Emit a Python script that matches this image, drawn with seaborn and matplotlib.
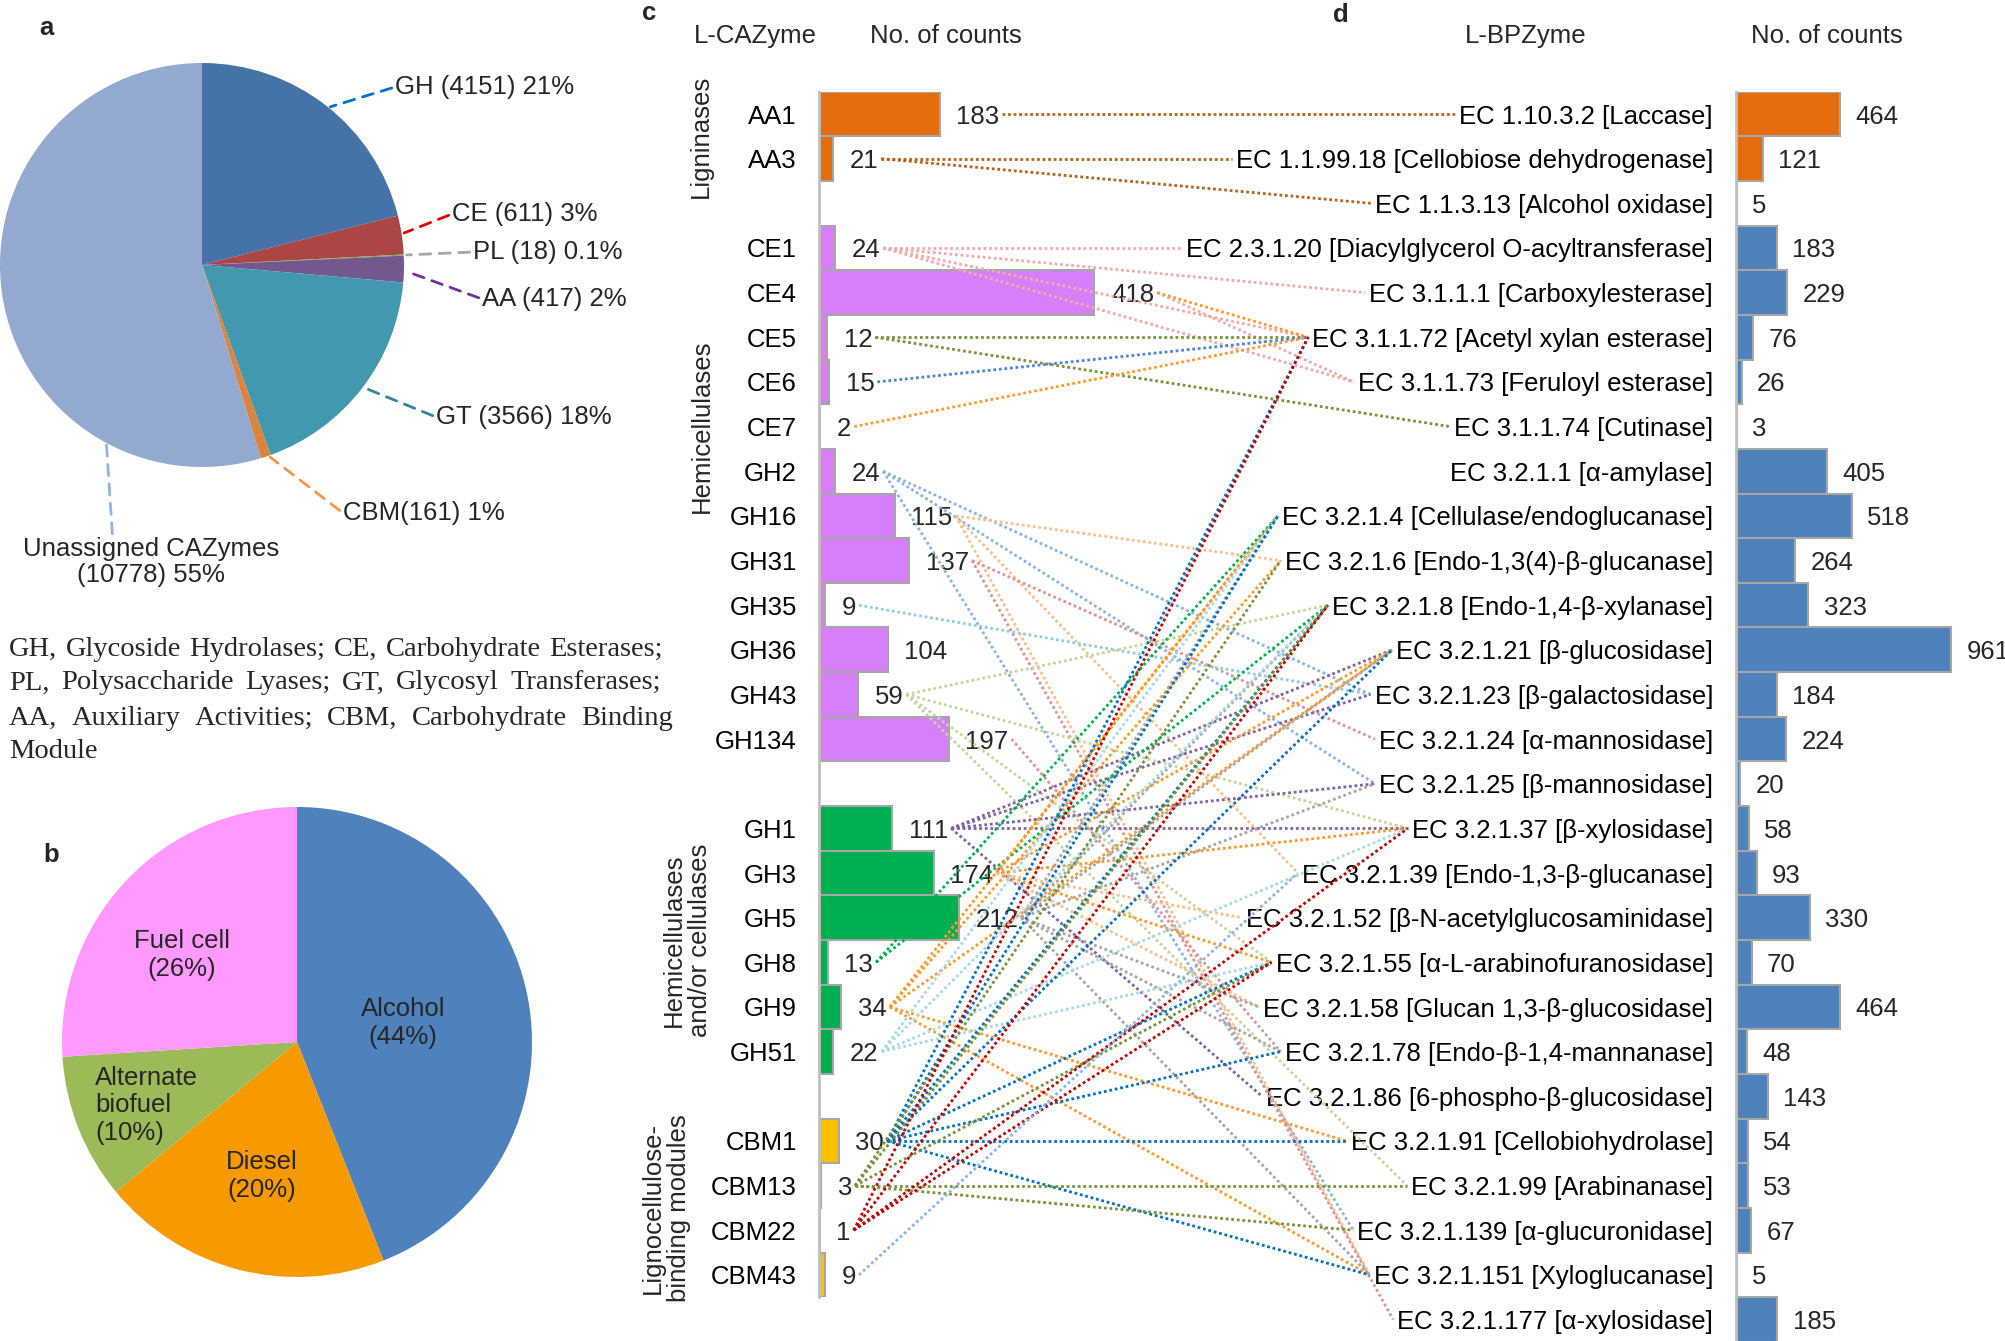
import matplotlib
matplotlib.use('Agg')
import matplotlib.pyplot as plt
import pandas as pd
import seaborn as sns
import numpy as np

W, H = 2006, 1341
FS = 18.5

# ---- panel a: CAZyme classes
cazy_classes = ['GH', 'CE', 'PL', 'AA', 'GT', 'CBM', 'Unassigned']
cazy_counts = [4151, 611, 18, 417, 3566, 161, 10778]
cazy_labels = ['GH (4151) 21%', 'CE (611) 3%', 'PL (18) 0.1%', 'AA (417) 2%',
               'GT (3566) 18%', 'CBM(161) 1%', 'Unassigned CAZymes\n(10778) 55%']
cazy_colors = ['#4572a7', '#aa4643', '#89a54e', '#71588f', '#4198af', '#db843d', '#93a9cf']
leader_colors = ['#0070c0', '#e00000', '#a6a6a6', '#7030a0', '#31859c', '#f79646', '#8eb4e3']

legend_lines = ['GH, Glycoside Hydrolases; CE, Carbohydrate Esterases;',
                'PL, Polysaccharide Lyases; GT, Glycosyl Transferases;',
                'AA, Auxiliary Activities; CBM, Carbohydrate Binding',
                'Module']

# ---- panel b: biofuel types
fuel_types = ['Alcohol\n(44%)', 'Diesel\n(20%)', 'Alternate\nbiofuel\n(10%)', 'Fuel cell\n(26%)']
fuel_share = [44, 20, 10, 26]
fuel_colors = ['#4f81bd', '#f79a00', '#9bbb59', '#ff99ff']

# ---- panel c: L-CAZymes
group_names = ['Ligninases', 'Hemicellulases', 'Hemicellulases\nand/or cellulases',
               'Lignocellulose-\nbinding modules']
group_colors = ['#e46c0a', '#d580fa', '#00b050', '#ffc000']
lig_enz = ['AA1', 'AA3']
lig_counts = [183, 21]
hemi_enz = ['CE1', 'CE4', 'CE5', 'CE6', 'CE7', 'GH2', 'GH16', 'GH31', 'GH35', 'GH36', 'GH43', 'GH134']
hemi_counts = [24, 418, 12, 15, 2, 24, 115, 137, 9, 104, 59, 197]
cell_enz = ['GH1', 'GH3', 'GH5', 'GH8', 'GH9', 'GH51']
cell_counts = [111, 174, 212, 13, 34, 22]
cbm_enz = ['CBM1', 'CBM13', 'CBM22', 'CBM43']
cbm_counts = [30, 3, 1, 9]

# ---- panel d: L-BPZymes
ec_codes = ['1.10.3.2', '1.1.99.18', '1.1.3.13', '2.3.1.20', '3.1.1.1', '3.1.1.72', '3.1.1.73',
            '3.1.1.74', '3.2.1.1', '3.2.1.4', '3.2.1.6', '3.2.1.8', '3.2.1.21', '3.2.1.23',
            '3.2.1.24', '3.2.1.25', '3.2.1.37', '3.2.1.39', '3.2.1.52', '3.2.1.55', '3.2.1.58',
            '3.2.1.78', '3.2.1.86', '3.2.1.91', '3.2.1.99', '3.2.1.139', '3.2.1.151', '3.2.1.177']
ec_names = ['Laccase', 'Cellobiose dehydrogenase', 'Alcohol oxidase',
            'Diacylglycerol O-acyltransferase', 'Carboxylesterase', 'Acetyl xylan esterase',
            'Feruloyl esterase', 'Cutinase', 'α-amylase', 'Cellulase/endoglucanase',
            'Endo-1,3(4)-β-glucanase', 'Endo-1,4-β-xylanase', 'β-glucosidase', 'β-galactosidase',
            'α-mannosidase', 'β-mannosidase', 'β-xylosidase', 'Endo-1,3-β-glucanase',
            'β-N-acetylglucosaminidase', 'α-L-arabinofuranosidase', 'Glucan 1,3-β-glucosidase',
            'Endo-β-1,4-mannanase', '6-phospho-β-glucosidase', 'Cellobiohydrolase', 'Arabinanase',
            'α-glucuronidase', 'Xyloglucanase', 'α-xylosidase']
ec_counts = [464, 121, 5, 183, 229, 76, 26, 3, 405, 518, 264, 323, 961, 184, 224, 20, 58, 93,
             330, 70, 464, 48, 143, 54, 53, 67, 5, 185]

# L-CAZyme -> L-BPZyme links (source, targets, colour)
links = [
    ('AA1', ['1.10.3.2'], '#b8621b'),
    ('AA3', ['1.1.99.18', '1.1.3.13'], '#b8621b'),
    ('CE1', ['2.3.1.20', '3.1.1.1', '3.1.1.72', '3.1.1.73'], '#f2aaaa'),
    ('CE4', ['3.1.1.73'], '#f2aaaa'),
    ('CE4', ['3.1.1.72'], '#ff9a2e'),
    ('CE5', ['3.1.1.72', '3.1.1.74'], '#77933c'),
    ('CE6', ['3.1.1.72'], '#4a86d8'),
    ('CE7', ['3.1.1.72'], '#ff9a2e'),
    ('GH2', ['3.2.1.23', '3.2.1.25', '3.2.1.139'], '#8db3e2'),
    ('GH16', ['3.2.1.6', '3.2.1.39', '3.2.1.151'], '#fbbf8c'),
    ('GH31', ['3.2.1.24', '3.2.1.177'], '#d99694'),
    ('GH35', ['3.2.1.23'], '#93cddd'),
    ('GH43', ['3.2.1.8', '3.2.1.37', '3.2.1.55', '3.2.1.99'], '#c3d69b'),
    ('GH134', ['3.2.1.78'], '#d99694'),
    ('GH1', ['3.2.1.21', '3.2.1.23', '3.2.1.25', '3.2.1.37', '3.2.1.86'], '#8064a2'),
    ('GH3', ['3.2.1.4', '3.2.1.21', '3.2.1.37', '3.2.1.55'], '#ff9a2e'),
    ('GH3', ['3.2.1.52', '3.2.1.58'], '#fbbf8c'),
    ('GH5', ['3.2.1.4', '3.2.1.8', '3.2.1.21', '3.2.1.25', '3.2.1.58', '3.2.1.78', '3.2.1.151'], '#a6a6a6'),
    ('GH8', ['3.2.1.4', '3.2.1.8'], '#00b050'),
    ('GH9', ['3.2.1.4', '3.2.1.6', '3.2.1.21', '3.2.1.91', '3.2.1.151'], '#ff9a2e'),
    ('GH51', ['3.2.1.4', '3.2.1.8', '3.2.1.37', '3.2.1.55'], '#a9d8e6'),
    ('CBM1', ['3.1.1.72', '3.2.1.4', '3.2.1.8', '3.2.1.21', '3.2.1.55', '3.2.1.78', '3.2.1.91', '3.2.1.151'], '#0070c0'),
    ('CBM13', ['3.2.1.6', '3.2.1.8', '3.2.1.55', '3.2.1.99', '3.2.1.139'], '#77933c'),
    ('CBM22', ['3.1.1.72', '3.2.1.8', '3.2.1.37', '3.2.1.55'], '#c00000'),
    ('CBM43', ['3.2.1.39'], '#8eb4e3'),
]

sns.set_theme(style='white')
plt.rcParams['font.family'] = ['Liberation Sans', 'DejaVu Sans']
plt.rcParams['font.size'] = FS

fig = plt.figure(figsize=(W / 100, H / 100), dpi=100)


def px_box(x0, y0, w, h):
    # pixel box (top-left origin) -> figure fraction
    return [x0 / W, 1 - (y0 + h) / H, w / W, h / H]


# ---------------- panel a
ax_a = fig.add_axes(px_box(0, 63, 404, 404))
wedges, _ = ax_a.pie(cazy_counts, colors=cazy_colors, startangle=90, counterclock=False,
                     wedgeprops=dict(linewidth=0))
ax_a.set_xlim(-1, 1)
ax_a.set_ylim(-1, 1)
ax_a.set_aspect('auto')
label_pos = [(395, 87), (452, 214), (473, 252), (482, 299), (436, 417), (343, 513), (151, 562)]
for i, (wdg, lab) in enumerate(zip(wedges, cazy_labels)):
    ang = np.deg2rad((wdg.theta1 + wdg.theta2) / 2) if i < 6 else np.deg2rad(-119)
    tx, ty = label_pos[i]
    last = i == 6
    ax_a.annotate(lab, xy=(0.98 * np.cos(ang), 0.98 * np.sin(ang)), xytext=(tx, H - ty),
                  textcoords='figure pixels', ha='center' if last else 'left', va='center',
                  fontsize=FS, linespacing=1.1,
                  arrowprops=dict(arrowstyle='-', linestyle=(0, (4, 3)), lw=2, color=leader_colors[i],
                                  shrinkA=0, shrinkB=5, relpos=(0.35, 1.0) if last else (0, 0.5)))

# serif definitions, justified
renderer = fig.canvas.get_renderer()
leg_y = [649, 683, 718, 752]
leg_right = [663, 661, 673, None]
for line, ly, right in zip(legend_lines, leg_y, leg_right):
    words = line.split(' ')
    texts = [fig.text(0, 1 - ly / H, w, fontsize=20.5, family='Liberation Serif', va='center')
             for w in words]
    widths = [t.get_window_extent(renderer).width for t in texts]
    gap = (right - 9 - sum(widths)) / (len(words) - 1) if right else 0
    x = 9
    for t, wd in zip(texts, widths):
        t.set_x(x / W)
        x += wd + gap

# ---------------- panel b
ax_b = fig.add_axes(px_box(62, 807, 470, 470))
ax_b.pie(fuel_share, colors=fuel_colors, startangle=90, counterclock=False,
         wedgeprops=dict(linewidth=0))
ax_b.set_xlim(-1, 1)
ax_b.set_ylim(-1, 1)
ax_b.set_aspect('auto')
fuel_pos = [(0.45, 0.08), (-0.15, -0.57), (-0.86, -0.27), (-0.49, 0.37)]
for lab, (fx, fy) in zip(fuel_types, fuel_pos):
    ax_b.text(fx, fy, lab, ha='left' if fx < -0.8 else 'center', va='center', fontsize=FS,
              multialignment='left' if fx < -0.8 else 'center')

# ---------------- panel c
row_h = 44.65
top = 114 - row_h / 2
groups = [lig_enz, hemi_enz, cell_enz, cbm_enz]
group_counts = [lig_counts, hemi_counts, cell_counts, cbm_counts]
c_order, c_names, c_vals, c_palette = [], [], [], {}
for gi, (enz, cnt) in enumerate(zip(groups, group_counts)):
    if gi:
        c_order.append(' ' * gi)
    c_order += enz
    c_names += enz
    c_vals += cnt
    for e in enz:
        c_palette[e] = group_colors[gi]
df_c = pd.DataFrame({'enzyme': c_names, 'count': c_vals})

n_c = len(c_order)
ax_c = fig.add_axes(px_box(819, top, 0.659 * 600, row_h * n_c))
sns.barplot(data=df_c, x='count', y='enzyme', hue='enzyme', order=c_order, hue_order=c_names,
            palette=c_palette, orient='h', width=1.0, saturation=1, errorbar=None,
            edgecolor='#a6a6a6', linewidth=1.5, legend=False, ax=ax_c)
ax_c.set_xlim(0, 600)
ax_c.set_ylim(n_c - 0.5, -0.5)

# ---------------- panel d
ec_labels = [f'EC {c} [{n}]' for c, n in zip(ec_codes, ec_names)]
df_d = pd.DataFrame({'ec': ec_labels, 'count': ec_counts})
d_palette = {lab: ('#e46c0a' if c.startswith('1.') else '#4f81bd') for lab, c in zip(ec_labels, ec_codes)}
n_d = len(ec_labels)
ax_d = fig.add_axes(px_box(1736, top, 0.224 * 1200, row_h * n_d))
sns.barplot(data=df_d, x='count', y='ec', hue='ec', order=ec_labels, hue_order=ec_labels,
            palette=d_palette, orient='h', width=1.0, saturation=1, errorbar=None,
            edgecolor='#a6a6a6', linewidth=1.5, legend=False, ax=ax_d)
ax_d.set_xlim(0, 1200)
ax_d.set_ylim(n_d - 0.5, -0.5)

for ax, pad in [(ax_c, 16), (ax_d, 16.5)]:
    ax.set_xlabel('')
    ax.set_ylabel('')
    ax.set_xticks([])
    ax.tick_params(axis='y', length=0, pad=pad, labelsize=FS, labelcolor='black')
    for s in ['top', 'right', 'bottom']:
        ax.spines[s].set_visible(False)
    ax.spines['left'].set_color('#bfbfbf')
    ax.spines['left'].set_linewidth(2)
    ax.patch.set_alpha(0)

val_text = {}
for name, v in zip(c_names, c_vals):
    val_text[name] = ax_c.annotate(str(v), xy=(v, c_order.index(name)), xytext=(12, 0),
                                   textcoords='offset points', va='center_baseline', ha='left',
                                   fontsize=FS)
for lab, v in zip(ec_labels, ec_counts):
    ax_d.annotate(str(v), xy=(v, ec_labels.index(lab)), xytext=(11, 0),
                  textcoords='offset points', va='center_baseline', ha='left', fontsize=FS,
                  annotation_clip=False)

# group labels (rotated)
group_rows = [0.5, 7.0, 18.5, 24.5]
group_x = [701, 702, 687, 666]
for name, gr, gx in zip(group_names, group_rows, group_x):
    ax_c.annotate(name, xy=(gx, gr), xycoords=('figure pixels', 'data'), rotation=90,
                  ha='center', va='center', fontsize=FS, linespacing=1.1)

# headers and panel letters
for txt, x, y in [('L-CAZyme', 755, 36), ('No. of counts', 946, 36),
                  ('L-BPZyme', 1526, 36), ('No. of counts', 1827, 36)]:
    fig.text(x / W, 1 - y / H, txt, ha='center', va='center', fontsize=FS)
for txt, x, y in [('a', 46, 28), ('b', 51, 855), ('c', 649, 13), ('d', 1341, 15)]:
    fig.text(x / W, 1 - y / H, txt, ha='center', va='center', fontsize=FS, fontweight='bold')

# ---------------- links
fig.canvas.draw()
renderer = fig.canvas.get_renderer()
ax_link = fig.add_axes([0, 0, 1, 1])
ax_link.set_xlim(0, W)
ax_link.set_ylim(0, H)
ax_link.axis('off')
ax_link.patch.set_alpha(0)
tick_text = {t.get_text(): t for t in ax_d.get_yticklabels()}
for src, targets, col in links:
    bb = val_text[src].get_window_extent(renderer)
    x0 = bb.x1 + 3
    y0 = ax_c.transData.transform((0, c_order.index(src)))[1]
    for tgt in targets:
        lab = ec_labels[ec_codes.index(tgt)]
        tb = tick_text[lab].get_window_extent(renderer)
        x1 = tb.x0 - 4
        y1 = ax_d.transData.transform((0, ec_labels.index(lab)))[1]
        ax_link.plot([x0, x1], [y0, y1], ls=(0, (1, 1)), lw=2.0, color=col)

fig.savefig('out.png', dpi=100)
